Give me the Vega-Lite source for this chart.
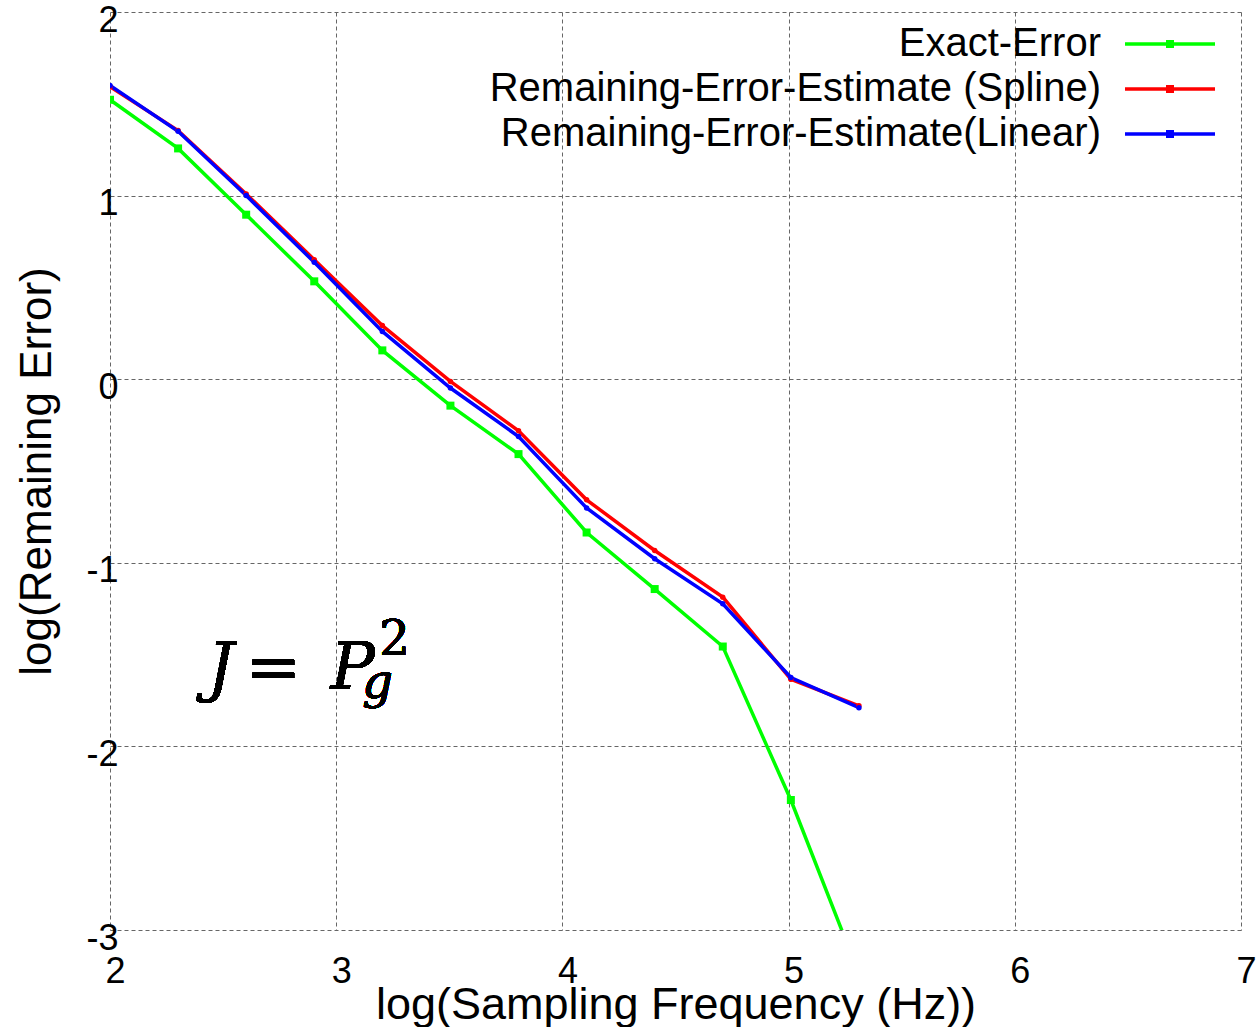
{
  "$schema": "https://vega.github.io/schema/vega-lite/v6.json",
  "width": 1131,
  "height": 918,
  "autosize": "none",
  "padding": {"left": 110, "top": 12, "right": 15, "bottom": 97},
  "background": "white",
  "config": {
    "view": {"stroke": null},
    "font": "Liberation Sans",
    "axis": {
      "domain": false,
      "ticks": false,
      "grid": true,
      "gridColor": "#666666",
      "gridDash": [4, 3],
      "gridWidth": 1,
      "gridOpacity": 1,
      "labelFont": "Liberation Sans",
      "labelFontSize": 36,
      "labelColor": "black",
      "titleFont": "Liberation Sans",
      "titleFontSize": 44,
      "titleFontWeight": "normal",
      "titleColor": "black"
    },
    "legend": {
      "labelFont": "Liberation Sans",
      "labelFontSize": 40,
      "labelColor": "black"
    }
  },
  "data": {
    "values": [
      {"f": 2.0, "e": 1.522, "s": "Exact-Error"},
      {"f": 2.301, "e": 1.257, "s": "Exact-Error"},
      {"f": 2.602, "e": 0.896, "s": "Exact-Error"},
      {"f": 2.903, "e": 0.533, "s": "Exact-Error"},
      {"f": 3.204, "e": 0.157, "s": "Exact-Error"},
      {"f": 3.505, "e": -0.144, "s": "Exact-Error"},
      {"f": 3.806, "e": -0.408, "s": "Exact-Error"},
      {"f": 4.107, "e": -0.835, "s": "Exact-Error"},
      {"f": 4.408, "e": -1.143, "s": "Exact-Error"},
      {"f": 4.709, "e": -1.456, "s": "Exact-Error"},
      {"f": 5.01, "e": -2.292, "s": "Exact-Error"},
      {"f": 5.311, "e": -3.24, "s": "Exact-Error"},
      {"f": 2.0, "e": 1.593, "s": "Remaining-Error-Estimate (Spline)"},
      {"f": 2.301, "e": 1.354, "s": "Remaining-Error-Estimate (Spline)"},
      {"f": 2.602, "e": 1.009, "s": "Remaining-Error-Estimate (Spline)"},
      {"f": 2.903, "e": 0.651, "s": "Remaining-Error-Estimate (Spline)"},
      {"f": 3.204, "e": 0.292, "s": "Remaining-Error-Estimate (Spline)"},
      {"f": 3.505, "e": -0.012, "s": "Remaining-Error-Estimate (Spline)"},
      {"f": 3.806, "e": -0.281, "s": "Remaining-Error-Estimate (Spline)"},
      {"f": 4.107, "e": -0.657, "s": "Remaining-Error-Estimate (Spline)"},
      {"f": 4.408, "e": -0.933, "s": "Remaining-Error-Estimate (Spline)"},
      {"f": 4.709, "e": -1.187, "s": "Remaining-Error-Estimate (Spline)"},
      {"f": 5.01, "e": -1.634, "s": "Remaining-Error-Estimate (Spline)"},
      {"f": 5.311, "e": -1.779, "s": "Remaining-Error-Estimate (Spline)"},
      {"f": 2.0, "e": 1.6, "s": "Remaining-Error-Estimate(Linear)"},
      {"f": 2.301, "e": 1.35, "s": "Remaining-Error-Estimate(Linear)"},
      {"f": 2.602, "e": 1.0, "s": "Remaining-Error-Estimate(Linear)"},
      {"f": 2.903, "e": 0.637, "s": "Remaining-Error-Estimate(Linear)"},
      {"f": 3.204, "e": 0.26, "s": "Remaining-Error-Estimate(Linear)"},
      {"f": 3.505, "e": -0.048, "s": "Remaining-Error-Estimate(Linear)"},
      {"f": 3.806, "e": -0.312, "s": "Remaining-Error-Estimate(Linear)"},
      {"f": 4.107, "e": -0.701, "s": "Remaining-Error-Estimate(Linear)"},
      {"f": 4.408, "e": -0.978, "s": "Remaining-Error-Estimate(Linear)"},
      {"f": 4.709, "e": -1.223, "s": "Remaining-Error-Estimate(Linear)"},
      {"f": 5.01, "e": -1.625, "s": "Remaining-Error-Estimate(Linear)"},
      {"f": 5.311, "e": -1.789, "s": "Remaining-Error-Estimate(Linear)"}
    ]
  },
  "layer": [
    {
      "mark": {"type": "line", "strokeWidth": 3.5, "clip": true},
      "encoding": {
        "x": {
          "field": "f", "type": "quantitative",
          "scale": {"domain": [2, 7], "nice": false, "zero": false},
          "axis": {"title": "log(Sampling Frequency (Hz))", "titleFontSize": 45, "values": [2, 3, 4, 5, 6, 7], "labelExpr": "toString(datum.value)", "labelPadding": 24, "labelOffset": 5, "titlePadding": -7, "labelFlush": false}
        },
        "y": {
          "field": "e", "type": "quantitative",
          "scale": {"domain": [-3, 2], "nice": false, "zero": false},
          "axis": {"title": "log(Remaining Error)", "values": [-3, -2, -1, 0, 1, 2], "labelExpr": "toString(datum.value)", "labelPadding": -8, "labelOffset": 8, "titlePadding": 26, "labelFlush": false}
        },
        "color": {
          "field": "s", "type": "nominal",
          "scale": {
            "domain": ["Exact-Error", "Remaining-Error-Estimate (Spline)", "Remaining-Error-Estimate(Linear)"],
            "range": ["#00ff00", "#ff0000", "#0000ff"]
          },
          "legend": {
            "title": null,
            "orient": "none",
            "legendX": 1035.5,
            "legendY": 7.5,
            "symbolType": "M-2,0H2M-0.1,-0.1H0.1V0.1H-0.1Z",
            "symbolSize": 2025,
            "symbolStrokeWidth": 3.5,
            "symbolOpacity": 1,
            "labelAlign": "right",
            "labelOffset": -93.5,
            "rowPadding": 0,
            "labelLimit": 1000
          }
        }
      }
    },
    {
      "transform": [{"filter": "datum.s === 'Exact-Error'"}],
      "mark": {"type": "point", "shape": "square", "filled": true, "opacity": 1, "size": 64, "color": "#00ff00", "clip": true},
      "encoding": {
        "x": {"field": "f", "type": "quantitative"},
        "y": {"field": "e", "type": "quantitative"}
      }
    },
    {
      "transform": [{"filter": "datum.s === 'Remaining-Error-Estimate (Spline)'"}],
      "mark": {"type": "point", "shape": "circle", "filled": true, "opacity": 1, "size": 30, "color": "#ff0000", "clip": true},
      "encoding": {
        "x": {"field": "f", "type": "quantitative"},
        "y": {"field": "e", "type": "quantitative"}
      }
    },
    {
      "transform": [{"filter": "datum.s === 'Remaining-Error-Estimate(Linear)'"}],
      "mark": {"type": "point", "shape": "circle", "filled": true, "opacity": 1, "size": 30, "color": "#0000ff", "clip": true},
      "encoding": {
        "x": {"field": "f", "type": "quantitative"},
        "y": {"field": "e", "type": "quantitative"}
      }
    },
    {
      "mark": {"type": "text", "text": "J", "font": "DejaVu Serif", "fontStyle": "italic", "fontSize": 66, "align": "left", "baseline": "alphabetic", "color": "black"},
      "encoding": {"x": {"datum": 2.43}, "y": {"datum": -1.69}}
    },
    {
      "mark": {"type": "text", "text": "=", "font": "DejaVu Serif", "fontSize": 66, "align": "left", "baseline": "alphabetic", "color": "black"},
      "encoding": {"x": {"datum": 2.6}, "y": {"datum": -1.69}}
    },
    {
      "mark": {"type": "text", "text": "P", "font": "DejaVu Serif", "fontStyle": "italic", "fontSize": 66, "align": "left", "baseline": "alphabetic", "color": "black"},
      "encoding": {"x": {"datum": 2.975}, "y": {"datum": -1.69}}
    },
    {
      "mark": {"type": "text", "text": "g", "font": "DejaVu Serif", "fontStyle": "italic", "fontSize": 48, "align": "left", "baseline": "alphabetic", "color": "black"},
      "encoding": {"x": {"datum": 3.115}, "y": {"datum": -1.735}}
    },
    {
      "mark": {"type": "text", "text": "2", "font": "DejaVu Serif", "fontSize": 48, "align": "left", "baseline": "alphabetic", "color": "black"},
      "encoding": {"x": {"datum": 3.19}, "y": {"datum": -1.5}}
    }
  ]
}
